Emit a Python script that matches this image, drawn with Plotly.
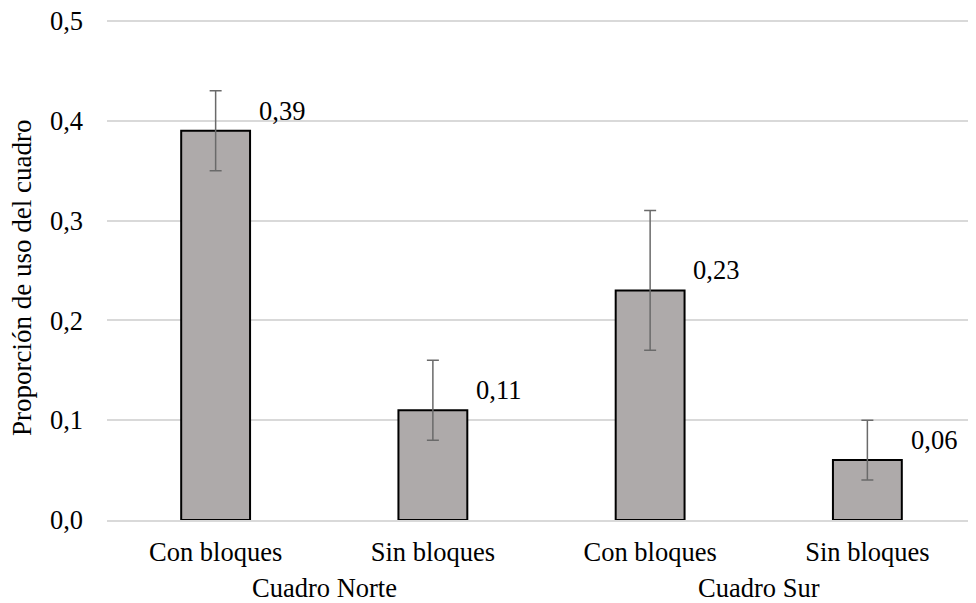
import plotly.graph_objects as go

categories = ["Con bloques", "Sin bloques", "Con bloques", "Sin bloques"]
groups = ["Cuadro Norte", "Cuadro Sur"]
values = [0.39, 0.11, 0.23, 0.06]
err_plus = [0.04, 0.05, 0.08, 0.04]
err_minus = [0.04, 0.03, 0.06, 0.02]
labels = ["0,39", "0,11", "0,23", "0,06"]
y_ticks = [0.0, 0.1, 0.2, 0.3, 0.4, 0.5]
y_title = "Proporción de uso del cuadro"

FONT = "Liberation Serif"
FS = 26.5
xs = list(range(len(categories)))

fig = go.Figure()
fig.add_trace(go.Bar(
    x=xs, y=values, width=0.317,
    marker=dict(color="#AEAAAA", line=dict(color="#000000", width=2)),
    error_y=dict(type="data", symmetric=False, array=err_plus, arrayminus=err_minus,
                 color="#6A6A6A", thickness=1.5, width=6),
    hoverinfo="skip",
))

for i, (v, t) in enumerate(zip(values, labels)):
    fig.add_annotation(x=i + 0.19, y=v, xref="x", yref="y", text=t, showarrow=False,
                       xanchor="left", yanchor="middle", yshift=20,
                       font=dict(family=FONT, size=FS, color="#000000"))

for gi, g in enumerate(groups):
    fig.add_annotation(x=gi * 2 + 0.5, y=0, xref="x", yref="paper", text=g, showarrow=False,
                       xanchor="center", yanchor="middle", yshift=-68,
                       font=dict(family=FONT, size=FS, color="#000000"))

fig.add_annotation(x=0, y=0, xref="paper", yref="y", text=y_title, showarrow=False,
                   textangle=-90, xanchor="center", yanchor="middle", xshift=-85, yshift=242,
                   font=dict(family=FONT, size=27, color="#000000"))

fig.update_layout(
    width=968, height=595,
    margin=dict(l=99, r=0, t=11, b=83, autoexpand=False),
    paper_bgcolor="white", plot_bgcolor="white",
    separators=",.",
    showlegend=False,
    font=dict(family=FONT, size=FS, color="#000000"),
)
fig.update_xaxes(
    tickmode="array", tickvals=xs, ticktext=categories,
    range=[-0.5, len(categories) - 0.5], automargin=False,
    showgrid=False, zeroline=False, showline=True, linecolor="#D9D9D9", linewidth=2,
    ticks="", ticklabelstandoff=7,
    tickfont=dict(family=FONT, size=FS, color="#000000"),
)
fig.update_yaxes(
    range=[0, 0.502], tickmode="array", tickvals=y_ticks, tickformat=".1f", automargin=False,
    showgrid=True, gridcolor="#D9D9D9", gridwidth=1.5,
    zeroline=False, showline=False, ticks="", ticklabelstandoff=23,
    ticklabeloverflow="allow",
    tickfont=dict(family=FONT, size=FS, color="#000000"),
)

fig.write_html("out.html")
